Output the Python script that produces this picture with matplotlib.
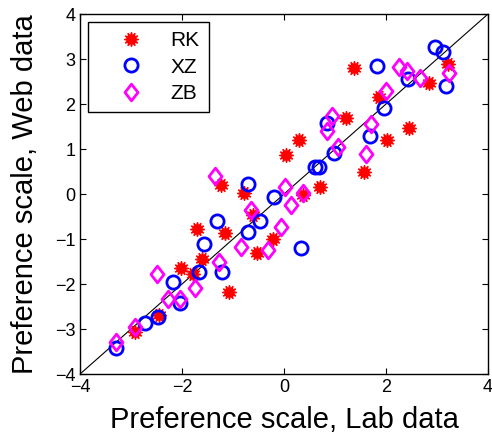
import numpy as np
import matplotlib
matplotlib.use('Agg')
from matplotlib import pyplot as plt
from matplotlib.path import Path

# Dados (escala de preferência: laboratório x web).
rk_lab = [1.37, 3.22, 2.84, 1.86, 1.22, 0.29, 0.04, 2.45, 2.02, 1.57, 0.71, 0.37, -1.24,
          -0.78, -0.61, -1.71, -1.16, -0.22, -0.53, -1.61, -2.02, -1.78, -1.08, -2.45, -2.92]
rk_web = [2.80, 2.89, 2.47, 2.15, 1.68, 1.21, 0.87, 1.46, 1.20, 0.49, 0.15, -0.02, 0.20,
          0.02, -0.47, -0.78, -0.87, -1.00, -1.31, -1.44, -1.64, -1.78, -2.18, -2.69, -3.07]

xz_lab = [2.96, 3.12, 1.82, 2.43, 3.18, 1.96, 1.69, 0.84, 0.98, 0.61, 0.69, -0.20, -0.71,
          -1.31, -0.47, -0.71, -1.57, 0.33, -1.67, -1.22, -2.18, -2.04, -2.47, -2.73, -3.29]
xz_web = [3.27, 3.16, 2.84, 2.55, 2.40, 1.91, 1.29, 1.58, 0.91, 0.60, 0.60, -0.07, 0.22,
          -0.60, -0.60, -0.84, -1.11, -1.20, -1.73, -1.73, -1.96, -2.42, -2.73, -2.87, -3.42]

zb_lab = [2.25, 2.41, 2.67, 3.24, 2.00, 1.71, 1.61, 0.94, 0.84, 1.06, 0.02, 0.37, 0.14,
          -0.06, -0.31, -1.35, -0.65, -0.84, -1.27, -2.49, -1.75, -2.04, -2.27, -2.92, -3.29]
zb_web = [2.82, 2.73, 2.58, 2.69, 2.29, 1.56, 0.89, 1.73, 1.40, 1.04, 0.16, 0.02, -0.24,
          -0.73, -1.24, 0.40, -0.36, -1.18, -1.51, -1.78, -2.09, -2.33, -2.33, -2.96, -3.29]

xticks = [-4, -2, 0, 2, 4]
yticks = [-4, -3, -2, -1, 0, 1, 2, 3, 4]

plt.rcParams['font.family'] = ['Liberation Sans', 'DejaVu Sans']
plt.rcParams['axes.unicode_minus'] = True

# Losango no estilo do MATLAB (mais largo que o 'd' do matplotlib).
diamond = Path([(0, 1), (0.78, 0), (0, -1), (-0.78, 0), (0, 1)],
               [Path.MOVETO, Path.LINETO, Path.LINETO, Path.LINETO, Path.CLOSEPOLY])

fig = plt.figure(figsize=(4.92, 4.38), dpi=100)
ax = fig.add_axes([0.1626, 0.146, 0.8293, 0.822])

ax.plot([-4, 4], [-4, 4], color='black', linewidth=0.8, zorder=1)

ax.plot(rk_lab, rk_web, linestyle='none', marker=(12, 1, 0), markersize=10.5,
        color='red', markeredgecolor='red', markeredgewidth=0.9, label='RK', zorder=2)
ax.plot(xz_lab, xz_web, linestyle='none', marker='o', markersize=9.5,
        markerfacecolor='none', markeredgecolor='blue', markeredgewidth=2.0, label='XZ', zorder=3)
ax.plot(zb_lab, zb_web, linestyle='none', marker=diamond, markersize=12,
        markerfacecolor='none', markeredgecolor='magenta', markeredgewidth=2.0, label='ZB', zorder=4)

ax.set_xlim(-4, 4)
ax.set_ylim(-4, 4)
ax.set_xticks(xticks)
ax.set_yticks(yticks)
ax.tick_params(direction='in', top=True, right=True, labelsize=13, length=4, width=0.8)
for s in ax.spines.values():
    s.set_linewidth(1.0)

ax.set_xlabel('Preference scale, Lab data', fontsize=21, labelpad=7)
ax.set_ylabel('Preference scale, Web data', fontsize=21, labelpad=11)

leg = ax.legend(loc='upper left', fontsize=15, handletextpad=0.3, borderpad=0.45,
                labelspacing=0.35, handlelength=3.2, fancybox=False, framealpha=1,
                edgecolor='black', borderaxespad=0.38)
leg.get_frame().set_linewidth(1.0)

fig.savefig('out.png', dpi=100)
